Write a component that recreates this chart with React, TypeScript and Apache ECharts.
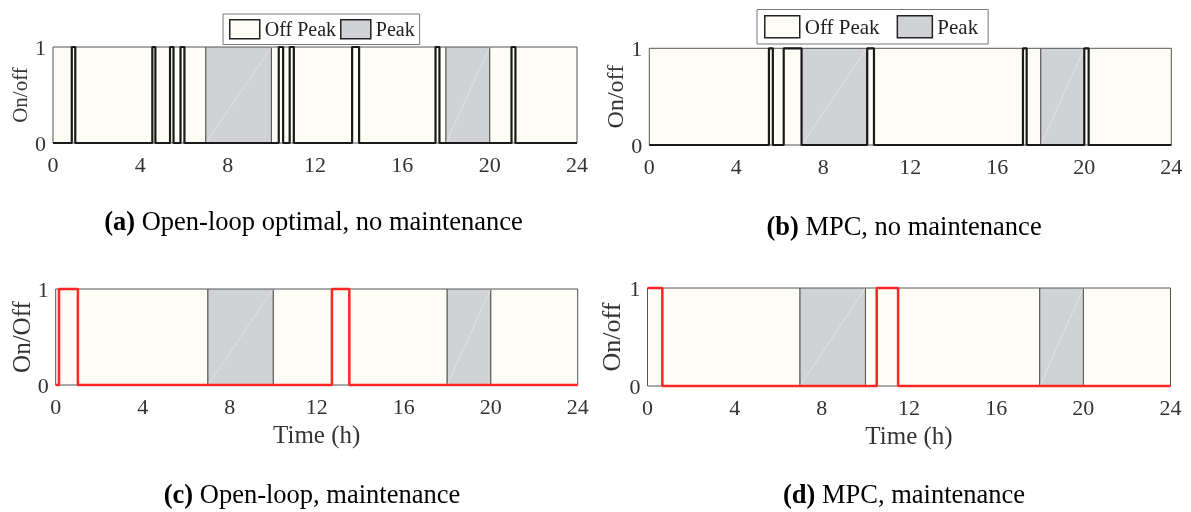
import React, { useEffect, useRef } from "react";
import * as echarts from "echarts";

// ---- data ----
const offPeakBands: number[][] = [[0, 7], [10, 18], [20, 24]];
const peakBands: number[][] = [[7, 10], [18, 20]];

// switching times (h) and on/off state held from that time on
const timesA = [0, 0.86, 1.02, 4.55, 4.69, 5.36, 5.52, 5.84, 6.02, 10.34, 10.54, 10.84, 11.03, 13.7, 14.02, 17.52, 17.7, 21.0, 21.18, 24];
const statesA = [0, 1, 0, 1, 0, 1, 0, 1, 0, 1, 0, 1, 0, 1, 0, 1, 0, 1, 0, 0];
const timesB = [0, 5.5, 5.68, 6.18, 7.0, 10.02, 10.33, 17.18, 17.35, 20.0, 20.2, 24];
const statesB = [0, 1, 0, 1, 0, 1, 0, 1, 0, 1, 0, 0];
const timesC = [0, 0.15, 1.02, 12.7, 13.5, 24];
const statesC = [0, 1, 0, 1, 0, 0];
const timesD = [0, 0.68, 10.52, 11.5, 24];
const statesD = [1, 0, 1, 0, 0];

const legendNames = ["Off Peak", "Peak"];
const yAxisNames = ["On/off", "On/off", "On/Off", "On/off"];
const xAxisNames = ["", "", "Time (h)", "Time (h)"];
const captionTags = ["(a)", "(b)", "(c)", "(d)"];
const captionTexts = [
  "Open-loop optimal, no maintenance",
  "MPC, no maintenance",
  "Open-loop, maintenance",
  "MPC, maintenance",
];

// ---- layout / style ----
const FONT = "Liberation Serif, Times New Roman, serif";
const OFF_COLOR = "#FDFDF5";
const PEAK_COLOR = "#D1D2D5";
const EDGE_COLOR = "#555555";

const grids = [
  { left: 53, top: 47, width: 524, height: 96 },
  { left: 649.3, top: 48.3, width: 522, height: 96.7 },
  { left: 55.7, top: 289, width: 522, height: 96 },
  { left: 647.5, top: 288, width: 523, height: 98 },
];
const yNameGaps = [22.5, 22, 22, 23.5];
const yNameSizes = [21, 24, 25, 26];
const captionPos = [
  [313.5, 221],
  [904, 226],
  [312, 494],
  [904, 494],
];

const lineSets = [
  { t: timesA, s: statesA, color: "#1a1a1a", width: 2.2 },
  { t: timesB, s: statesB, color: "#1a1a1a", width: 2.2 },
  { t: timesC, s: statesC, color: "#ff2626", width: 2.5 },
  { t: timesD, s: statesD, color: "#ff2626", width: 2.5 },
];

function bandRenderer(fill: string, diagonal: boolean) {
  return (params: any, api: any) => {
    const s = api.value(0);
    const e = api.value(1);
    const p0 = api.coord([s, 1]);
    const p1 = api.coord([e, 0]);
    const children: any[] = [
      {
        type: "rect",
        shape: { x: p0[0], y: p0[1], width: p1[0] - p0[0], height: p1[1] - p0[1] },
        style: { fill, stroke: EDGE_COLOR, lineWidth: 1 },
      },
    ];
    if (diagonal) {
      children.push({
        type: "line",
        shape: { x1: p0[0], y1: p1[1], x2: p1[0], y2: p0[1] },
        style: { stroke: "rgba(255,255,255,0.5)", lineWidth: 0.7 },
      });
    }
    return { type: "group", children };
  };
}

export default function App() {
  const ref = useRef<HTMLDivElement>(null);

  useEffect(() => {
    if (!ref.current) return;
    const chart = echarts.init(ref.current, undefined, { renderer: "svg" });

    const xAxis: any[] = [];
    const yAxis: any[] = [];
    const series: any[] = [];

    grids.forEach((g, i) => {
      xAxis.push({
        type: "value",
        gridIndex: i,
        min: 0,
        max: 24,
        interval: 4,
        axisLine: { show: false },
        axisTick: { show: false },
        splitLine: { show: false },
        axisLabel: { fontFamily: FONT, fontSize: 22, color: "#333", margin: 10 },
        name: xAxisNames[i],
        nameLocation: "middle",
        nameGap: 37,
        nameTextStyle: { fontFamily: FONT, fontSize: 25, color: "#333" },
      });
      yAxis.push({
        type: "value",
        gridIndex: i,
        min: 0,
        max: 1,
        interval: 1,
        axisLine: { show: false },
        axisTick: { show: false },
        splitLine: { show: false },
        axisLabel: { fontFamily: FONT, fontSize: 22, color: "#333", margin: 7 },
        name: yAxisNames[i],
        nameLocation: "middle",
        nameGap: yNameGaps[i],
        nameTextStyle: { fontFamily: FONT, fontSize: yNameSizes[i], color: "#333" },
      });
      series.push({
        name: legendNames[0],
        type: "custom",
        xAxisIndex: i,
        yAxisIndex: i,
        silent: true,
        z: 1,
        itemStyle: { color: OFF_COLOR, borderColor: "#222", borderWidth: 1.5 },
        encode: { x: [0, 1] },
        renderItem: bandRenderer(OFF_COLOR, false),
        data: offPeakBands,
      });
      series.push({
        name: legendNames[1],
        type: "custom",
        xAxisIndex: i,
        yAxisIndex: i,
        silent: true,
        z: 1,
        itemStyle: { color: PEAK_COLOR, borderColor: "#222", borderWidth: 1.5 },
        encode: { x: [0, 1] },
        renderItem: bandRenderer(PEAK_COLOR, true),
        data: peakBands,
      });
      const ls = lineSets[i];
      series.push({
        type: "line",
        xAxisIndex: i,
        yAxisIndex: i,
        step: "end",
        showSymbol: false,
        symbol: "none",
        clip: false,
        z: 3,
        silent: true,
        lineStyle: { color: ls.color, width: ls.width },
        data: ls.t.map((t, k) => [t, ls.s[k]]),
      });
    });

    const graphic: any[] = captionPos.map((p, i) => ({
      type: "text",
      x: p[0],
      y: p[1],
      style: {
        text: `{b|${captionTags[i]}} ${captionTexts[i]}`,
        fontFamily: FONT,
        fontSize: 26.5,
        fill: "#000",
        align: "center",
        verticalAlign: "middle",
        rich: {
          b: { fontFamily: FONT, fontSize: 26.5, fontWeight: "bold", fill: "#000" },
        },
      },
    }));

    const legendCommon = {
      data: legendNames,
      orient: "horizontal",
      icon: "rect",
      selectedMode: false,
      backgroundColor: "#fff",
      borderColor: "#777",
      borderWidth: 1,
      borderRadius: 0,
      itemStyle: { borderColor: "#222", borderWidth: 1.5 },
    };

    chart.setOption({
      animation: false,
      grid: grids.map((g) => ({ ...g, containLabel: false })),
      xAxis,
      yAxis,
      series,
      graphic,
      legend: [
        {
          ...legendCommon,
          left: 223,
          top: 14,
          padding: [5, 5, 5, 6],
          itemWidth: 30,
          itemHeight: 19,
          itemGap: 4,
          textStyle: { fontFamily: FONT, fontSize: 20, color: "#222" },
        },
        {
          ...legendCommon,
          left: 757,
          top: 9.5,
          padding: [5.5, 10, 5.5, 7],
          itemWidth: 35,
          itemHeight: 22,
          itemGap: 17,
          textStyle: { fontFamily: FONT, fontSize: 21, color: "#222" },
        },
      ],
    });

    return () => chart.dispose();
  }, []);

  return (
    <div
      ref={ref}
      style={{ position: "fixed", left: 0, top: 0, width: 1191, height: 512 }}
    />
  );
}
